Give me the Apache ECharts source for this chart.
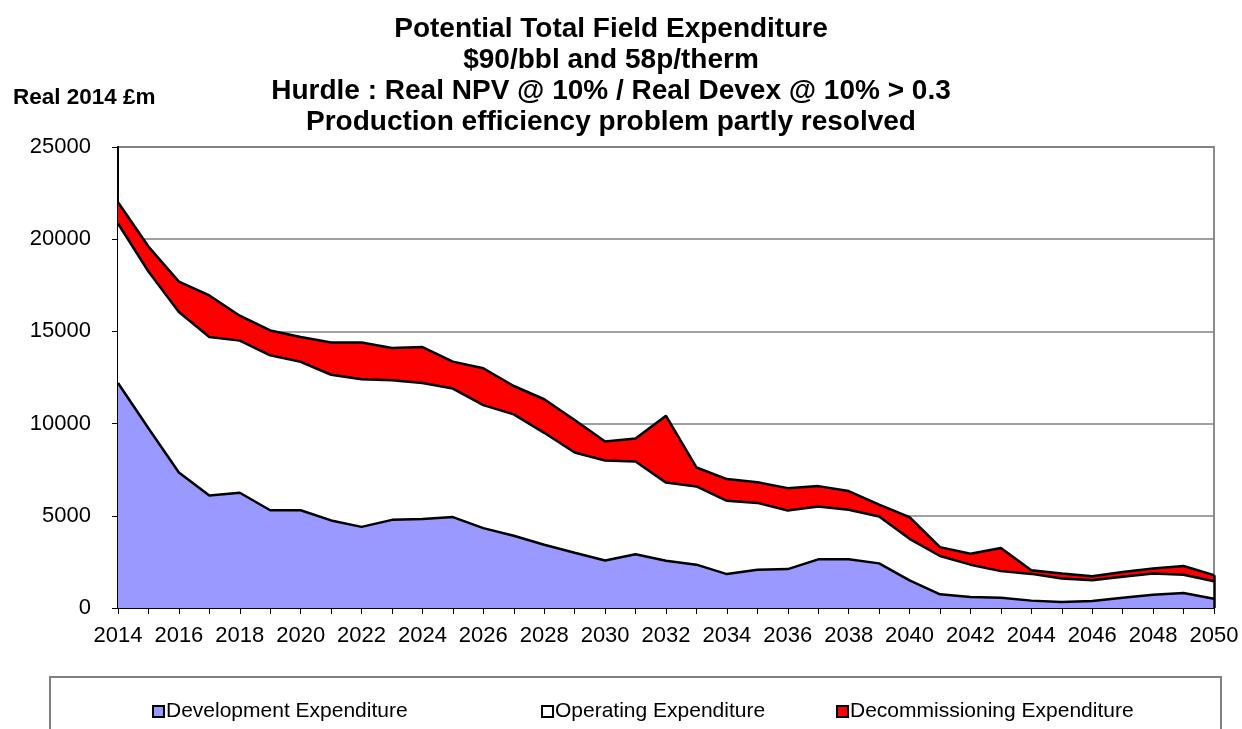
<!DOCTYPE html>
<html>
<head>
<meta charset="utf-8">
<script src="https://cdn.jsdelivr.net/npm/echarts@6/dist/echarts.min.js"></script>
<style>
html, body { margin: 0; padding: 0; background: #fff; }
#main { width: 1242px; height: 729px; }
</style>
</head>
<body>
<div id="main"></div>
<script>
var years = [];
for (var y = 2014; y <= 2050; y++) years.push(String(y));

/* Real 2014 £m */
var development = [12200, 9750, 7350, 6100, 6250, 5300, 5300, 4750, 4400, 4780,
	4830, 4930, 4330, 3920, 3430, 3000, 2580, 2920, 2560, 2350,
	1840, 2080, 2110, 2640, 2640, 2420, 1500, 740, 600, 550,
	400, 330, 380, 560, 720, 810, 500];
var operating = [8650, 8500, 8700, 8600, 8250, 8400, 8050, 7900, 8000, 7570,
	7370, 6970, 6670, 6580, 6070, 5430, 5420, 5020, 4240, 4240,
	3970, 3620, 3180, 2870, 2690, 2540, 2250, 2080, 1750, 1450,
	1450, 1270, 1120, 1130, 1150, 990, 950];
var decommissioning = [1150, 1350, 1650, 2250, 1350, 1350, 1350, 1750, 2000, 1750,
	1950, 1460, 2000, 1540, 1820, 1770, 1030, 1250, 3620, 1030,
	1180, 1120, 1210, 1100, 1010, 650, 1180, 480, 590, 1250,
	200, 270, 220, 260, 270, 480, 330];

var names = ['Development Expenditure', 'Operating Expenditure', 'Decommissioning Expenditure'];
var colors = ['#9999ff', '#ffffff', '#ff0000'];
var lastIdx = years.length - 1;
var lastTotal = development[lastIdx] + operating[lastIdx] + decommissioning[lastIdx];

var myChart = echarts.init(document.getElementById('main'));

function areaSeries(i, data) {
	return {
		name: names[i],
		type: 'line',
		stack: 'area',
		data: data,
		symbol: 'none',
		itemStyle: { color: colors[i] },
		lineStyle: { width: 0 },
		areaStyle: { color: colors[i], opacity: 1 },
		z: 2,
		silent: true
	};
}

function edgeSeries(i, data) {
	return {
		name: 'edge' + i,
		type: 'line',
		stack: 'edge',
		data: data,
		symbol: 'none',
		lineStyle: { color: '#000', width: 2.5 },
		z: 4,
		silent: true
	};
}

var edgeTop = edgeSeries(2, decommissioning);
edgeTop.markLine = {
	symbol: 'none',
	silent: true,
	label: { show: false },
	lineStyle: { color: '#000', width: 2.5, type: 'solid' },
	data: [[{ coord: [years[lastIdx], 0] }, { coord: [years[lastIdx], lastTotal] }]]
};

function legendAt(i, left) {
	return {
		data: [names[i]],
		left: left,
		top: 696,
		icon: 'rect',
		itemWidth: 11,
		itemHeight: 11,
		itemStyle: { borderColor: '#000', borderWidth: 2 },
		textStyle: { fontFamily: 'Arial, Liberation Sans', fontSize: 21, color: '#000', padding: [0, 0, 0, -3] },
		selectedMode: false
	};
}

var option = {
	animation: false,
	backgroundColor: '#fff',
	title: [{
		text: 'Potential Total Field Expenditure\n$90/bbl and 58p/therm\nHurdle : Real NPV @ 10% / Real Devex @ 10% > 0.3\nProduction efficiency problem partly resolved',
		left: 611,
		top: 14,
		padding: 0,
		textAlign: 'center',
		textStyle: { fontFamily: 'Arial, Liberation Sans', fontSize: 28, fontWeight: 'bold', lineHeight: 31, color: '#000' }
	}, {
		text: 'Real 2014 £m',
		left: 13,
		top: 86,
		padding: 0,
		textStyle: { fontFamily: 'Arial, Liberation Sans', fontSize: 22.5, fontWeight: 'bold', color: '#000' }
	}],
	graphic: [{
		type: 'rect',
		left: 49,
		top: 676,
		shape: { width: 1171, height: 70 },
		style: { fill: '#fff', stroke: '#808080', lineWidth: 2 },
		z: -1
	}],
	legend: [legendAt(0, 147), legendAt(1, 536), legendAt(2, 831)],
	grid: {
		left: 118,
		right: 28,
		top: 147,
		bottom: 121,
		show: true,
		borderColor: '#8c8c8c',
		borderWidth: 2
	},
	xAxis: {
		type: 'category',
		data: years,
		boundaryGap: false,
		axisLine: { lineStyle: { color: '#000', width: 2 } },
		axisTick: { show: true, interval: 0, length: 6, lineStyle: { color: '#000', width: 1 } },
		axisLabel: { interval: 1, margin: 17, color: '#000', fontFamily: 'Arial, Liberation Sans', fontSize: 22 },
		splitLine: { show: false }
	},
	yAxis: {
		type: 'value',
		min: 0,
		max: 25000,
		interval: 5000,
		axisLine: { show: true, lineStyle: { color: '#000', width: 2 } },
		axisTick: { show: true, length: 6, lineStyle: { color: '#000', width: 1 } },
		axisLabel: {
			margin: 27,
			color: '#000',
			fontFamily: 'Arial, Liberation Sans',
			fontSize: 22,
			formatter: function (v) { return String(v); }
		},
		splitLine: { lineStyle: { color: '#808080', width: 1.5 } }
	},
	series: [
		areaSeries(0, development),
		areaSeries(1, operating),
		areaSeries(2, decommissioning),
		edgeSeries(0, development),
		edgeSeries(1, operating),
		edgeTop
	]
};
myChart.setOption(option);
</script>
</body>
</html>
